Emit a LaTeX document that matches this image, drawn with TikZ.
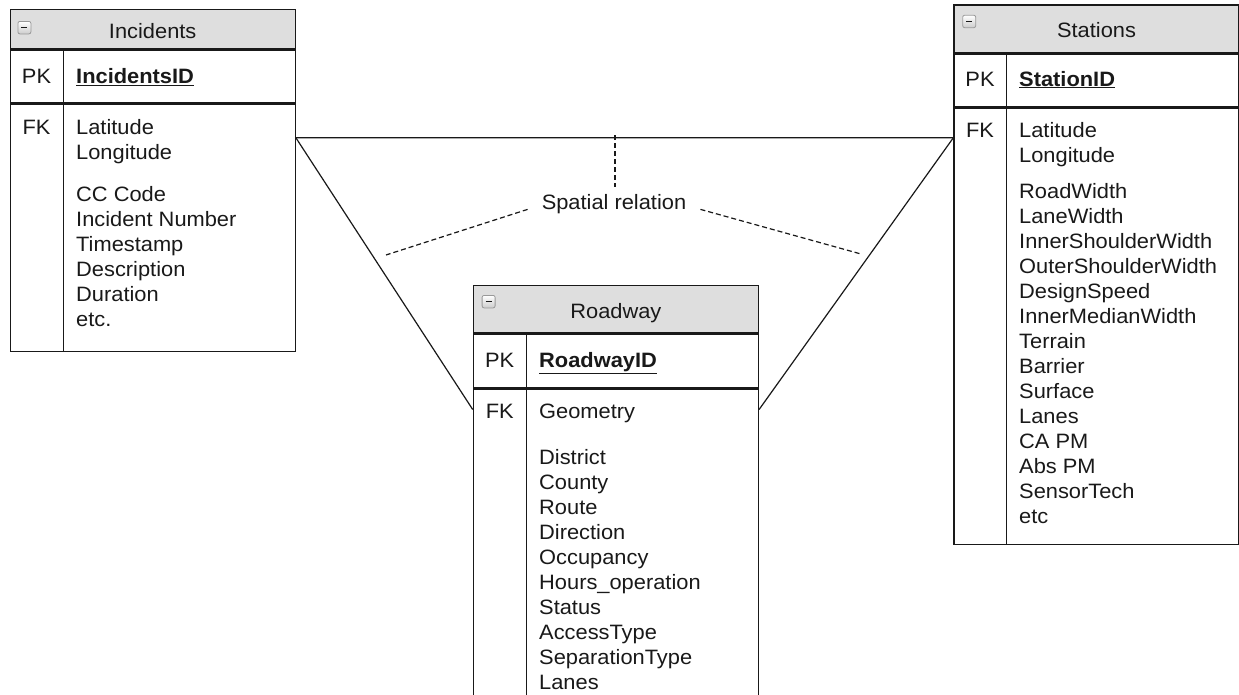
\documentclass[tikz,border=0pt]{standalone}
\usepackage{fontspec}
\setmainfont{Liberation Sans}[FakeStretch=1.05]
\usetikzlibrary{calc}

\definecolor{headgray}{RGB}{222,222,222}
\definecolor{ink}{RGB}{25,25,25}
\newcommand\fieldfont{\fontsize{20.8}{25}\selectfont}

\tikzset{
  tbl/.style={draw=ink, line width=1.4pt, anchor=north west, inner sep=0pt, minimum width=285pt},
  head/.style={tbl, fill=headgray, text=ink, font=\fieldfont, text height=18pt, text depth=0pt},
  field/.style={anchor=base west, inner sep=0pt, text=ink, font=\fieldfont},
  key/.style={anchor=base, inner sep=0pt, text=ink, font=\fieldfont},
  icon/.style={draw=gray!80, line width=0.8pt, rounded corners=2pt, minimum width=13pt, minimum height=12.5pt,
    inner sep=0pt, anchor=north west, top color=white, bottom color=gray!40,
    path picture={\draw[ink, line width=1.3pt] ([xshift=3.5pt]path picture bounding box.west)
      -- ([xshift=-3.5pt]path picture bounding box.east);}},
  link/.style={ink, line width=1.2pt},
  rel/.style={ink, line width=1.2pt, dash pattern=on 5pt off 3pt},
}

\begin{document}
\begin{tikzpicture}[x=1pt, y=-1pt]
\useasboundingbox (0,0) rectangle (1239,694);
\clip (0,0) rectangle (1239,694);
\fill[white] (0,0) rectangle (1239,694);

% Incidents
\node[head, minimum height=39pt] (inc-head) at (9.5,9) {Incidents};
\node[icon] (inc-icon) at ([xshift=8pt, yshift=-12pt]inc-head.north west) {};
\node[tbl, minimum height=53pt] (inc-pk) at (inc-head.south west) {};
\node[tbl, minimum height=247pt] (inc-body) at (inc-pk.south west) {};
\draw[ink, line width=1.4pt] ([xshift=54pt]inc-pk.north west) -- ([xshift=54pt]inc-body.south west);
\node[key] (inc-pkey) at (36.5,83.5) {PK};
\node[key] (inc-fkey) at (36.5,134.5) {FK};
\node[field] (inc-id) at (76,83.5) {\underline{\textbf{IncidentsID}}};
\node[field] (inc-lat) at (76,134.5) {Latitude};
\node[field] (inc-lon) at (76,159.5) {Longitude};
\foreach \f [count=\i] in {CC Code, Incident Number, Timestamp, Description, Duration, etc.}
  \node[field] (inc-f\i) at (76,{176+25*\i}) {\f};

% Stations
\node[head, minimum height=47.4pt] (sta-head) at (953.3,4.3) {Stations};
\node[icon] (sta-icon) at ([xshift=9pt, yshift=-10.5pt]sta-head.north west) {};
\node[tbl, minimum height=53.3pt] (sta-pk) at (sta-head.south west) {};
\node[tbl, minimum height=436pt] (sta-body) at (sta-pk.south west) {};
\draw[ink, line width=1.4pt] ([xshift=53.4pt]sta-pk.north west) -- ([xshift=53.4pt]sta-body.south west);
\node[key] (sta-pkey) at (980,86) {PK};
\node[key] (sta-fkey) at (980,137) {FK};
\node[field] (sta-id) at (1019,86) {\underline{\textbf{StationID}}};
\node[field] (sta-lat) at (1019,137) {Latitude};
\node[field] (sta-lon) at (1019,162) {Longitude};
\foreach \f [count=\i] in {RoadWidth, LaneWidth, InnerShoulderWidth, OuterShoulderWidth, DesignSpeed,
    InnerMedianWidth, Terrain, Barrier, Surface, Lanes, CA PM, Abs PM, SensorTech, etc}
  \node[field] (sta-f\i) at (1019,{173+25*\i}) {\f};

% Roadway
\node[head, minimum height=46.7pt] (road-head) at (472.7,285) {Roadway};
\node[icon] (road-icon) at ([xshift=9pt, yshift=-10pt]road-head.north west) {};
\node[tbl, minimum height=54.3pt] (road-pk) at (road-head.south west) {};
\node[tbl, minimum height=340pt] (road-body) at (road-pk.south west) {};
\draw[ink, line width=1.4pt] ([xshift=54pt]road-pk.north west) -- ([xshift=54pt]road-body.south west);
\node[key] (road-pkey) at (499.7,367) {PK};
\node[key] (road-fkey) at (499.7,418) {FK};
\node[field] (road-id) at (539,367) {\underline{\textbf{RoadwayID}}};
\node[field] (road-geo) at (539,418) {Geometry};
\foreach \f [count=\i] in {District, County, Route, Direction, Occupancy, Hours\_operation,
    Status, AccessType, SeparationType, Lanes}
  \node[field] (road-f\i) at (539,{439+25*\i}) {\f};

% links
\coordinate (inc-c) at ([yshift=-34pt]inc-body.north east);
\coordinate (sta-c) at ([yshift=-30pt]sta-body.north west);
\coordinate (road-cl) at ([yshift=-20.7pt]road-body.north west);
\coordinate (road-cr) at ([yshift=-20.7pt]road-body.north east);
\draw[link] (inc-c) -- (sta-c);
\draw[link] (inc-c) -- (road-cl);
\draw[link] (sta-c) -- (road-cr);

% spatial relation
\coordinate (hub) at (615,135);
\coordinate (rel-lft) at (386,255);
\coordinate (rel-rgt) at (861,254);
\node[font=\fieldfont, text=ink, inner xsep=14pt, inner ysep=7pt] (rel) at (614,204) {Spatial relation};
\draw[rel] (hub) -- (hub |- rel.north);
\draw[rel] (rel.base west) -- (rel-lft);
\draw[rel] (rel.base east) -- (rel-rgt);
\end{tikzpicture}
\end{document}
